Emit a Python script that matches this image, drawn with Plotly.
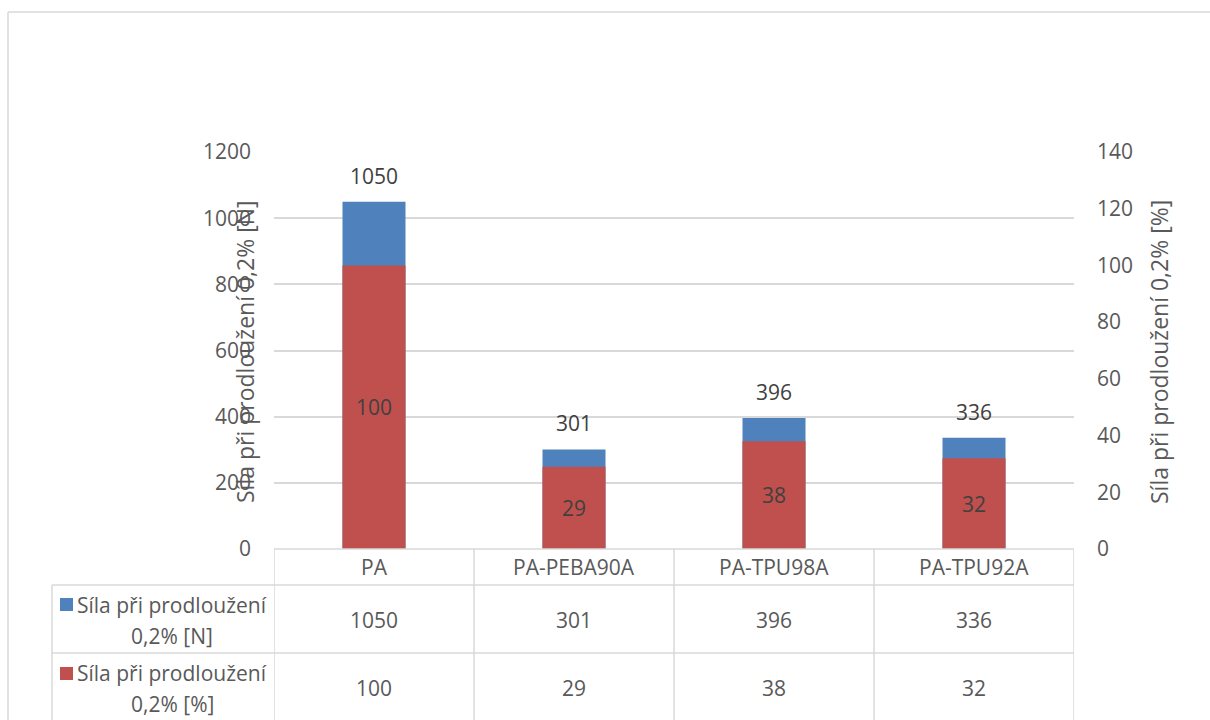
import plotly.graph_objects as go

# Sample categories and measured values
categories = ["PA", "PA-PEBA90A", "PA-TPU98A", "PA-TPU92A"]
force_n = [1050, 301, 396, 336]          # Síla při prodloužení 0,2% [N]
force_pct = [100, 29, 38, 32]            # Síla při prodloužení 0,2% [%]
left_ticks = [0, 200, 400, 600, 800, 1000, 1200]
right_ticks = [0, 20, 40, 60, 80, 100, 120, 140]
name_n = "Síla při prodloužení 0,2% [N]"
name_pct = "Síla při prodloužení 0,2% [%]"

BLUE = "#4F81BD"
RED = "#C0504D"
GRID = "#D9D9D9"
TXT = "#595959"
LBL = "#404040"
FONT = "Open Sans"
FS = 21
FS_TITLE = 23

# Plot-area geometry in pixels (used to convert page positions to paper units)
W_PX, H_PX = 1210, 720
L, R, T, B = 274, 1074, 152, 549


def px(x):
    return (x - L) / (R - L)


def py(y):
    return (B - y) / (B - T)


fig = go.Figure()

fig.add_trace(go.Bar(
    x=categories, y=force_n, name=name_n, yaxis="y",
    marker=dict(color=BLUE, line=dict(width=0)), width=0.315,
    hoverinfo="x+y",
))
fig.add_trace(go.Bar(
    x=categories, y=force_pct, name=name_pct, yaxis="y2",
    marker=dict(color=RED, line=dict(width=0)), width=0.315,
    text=[str(v) for v in force_pct], textposition="inside",
    insidetextanchor="middle", textangle=0,
    textfont=dict(family=FONT, size=FS, color=LBL),
    hoverinfo="x+y",
))

annotations = []

# Value labels above the force bars
for c, v in zip(categories, force_n):
    annotations.append(dict(
        x=c, y=v, xref="x", yref="y", text=str(v), showarrow=False,
        yshift=26, yanchor="middle",
        font=dict(family=FONT, size=FS, color=LBL),
    ))

# Axis titles
annotations.append(dict(
    x=px(245), y=py(352), xref="paper", yref="paper", text=name_n,
    textangle=-90, showarrow=False, xanchor="center", yanchor="middle",
    font=dict(family=FONT, size=FS_TITLE, color=TXT),
))
annotations.append(dict(
    x=px(1159), y=py(352), xref="paper", yref="paper", text=name_pct,
    textangle=-90, showarrow=False, xanchor="center", yanchor="middle",
    font=dict(family=FONT, size=FS_TITLE, color=TXT),
))

# Data table: category row and value rows
for i, c in enumerate(categories):
    annotations.append(dict(
        x=i, y=py(567), xref="x", yref="paper", text=c, showarrow=False,
        xanchor="center", yanchor="middle",
        font=dict(family=FONT, size=FS, color=TXT),
    ))
    annotations.append(dict(
        x=i, y=py(620), xref="x", yref="paper", text=str(force_n[i]),
        showarrow=False, xanchor="center", yanchor="middle",
        font=dict(family=FONT, size=FS, color=TXT),
    ))
    annotations.append(dict(
        x=i, y=py(688), xref="x", yref="paper", text=str(force_pct[i]),
        showarrow=False, xanchor="center", yanchor="middle",
        font=dict(family=FONT, size=FS, color=TXT),
    ))

# Legend keys inside the table
legend_rows = [
    ("Síla při prodloužení", "0,2% [N]", 605, 636, 598, BLUE),
    ("Síla při prodloužení", "0,2% [%]", 673, 704, 667, RED),
]
shapes = []
for line1, line2, y1, y2, my, col in legend_rows:
    annotations.append(dict(
        x=px(172), y=py(y1), xref="paper", yref="paper", text=line1,
        showarrow=False, xanchor="center", yanchor="middle",
        font=dict(family=FONT, size=FS, color=TXT),
    ))
    annotations.append(dict(
        x=px(172), y=py(y2), xref="paper", yref="paper", text=line2,
        showarrow=False, xanchor="center", yanchor="middle",
        font=dict(family=FONT, size=FS, color=TXT),
    ))
    shapes.append(dict(
        type="rect", xref="paper", yref="paper",
        x0=px(60), x1=px(73), y0=py(my + 13), y1=py(my),
        fillcolor=col, line=dict(width=0),
    ))

line_style = dict(color=GRID, width=1.5)
# Outer chart border (top and left edges)
shapes.append(dict(type="line", xref="paper", yref="paper",
                   x0=px(8), x1=px(1215), y0=py(12), y1=py(12), line=line_style))
shapes.append(dict(type="line", xref="paper", yref="paper",
                   x0=px(8), x1=px(8), y0=py(12), y1=py(725), line=line_style))
# Table grid
for xb in [-0.5, 0.5, 1.5, 2.5, 3.5]:
    shapes.append(dict(type="line", xref="x", yref="paper",
                       x0=xb, x1=xb, y0=0, y1=py(725), line=line_style))
shapes.append(dict(type="line", xref="paper", yref="paper",
                   x0=px(52), x1=px(52), y0=py(585), y1=py(725), line=line_style))
for yl in [585, 653]:
    shapes.append(dict(type="line", xref="paper", yref="paper",
                       x0=px(52), x1=1, y0=py(yl), y1=py(yl), line=line_style))
shapes.append(dict(type="line", xref="x", yref="paper",
                   x0=-0.5, x1=3.5, y0=0, y1=0, line=line_style))

fig.update_layout(
    width=W_PX, height=H_PX,
    margin=dict(l=L, r=W_PX - R, t=T, b=H_PX - B, autoexpand=False),
    paper_bgcolor="white", plot_bgcolor="white",
    barmode="overlay", showlegend=False,
    font=dict(family=FONT, size=FS, color=TXT),
    xaxis=dict(type="category", range=[-0.5, 3.5], showticklabels=False,
               showgrid=False, zeroline=False, showline=False, fixedrange=True),
    yaxis=dict(range=[0, 1200], tickvals=left_ticks, ticks="",
               showgrid=True, gridcolor=GRID, gridwidth=1.5,
               zeroline=False, showline=False, ticklabelstandoff=22,
               tickfont=dict(family=FONT, size=FS, color=TXT)),
    yaxis2=dict(range=[0, 140], tickvals=right_ticks, ticks="",
                overlaying="y", side="right", showgrid=False,
                zeroline=False, showline=False, ticklabelstandoff=22,
                tickfont=dict(family=FONT, size=FS, color=TXT)),
    annotations=annotations,
    shapes=shapes,
)

fig.write_html("out.html")
